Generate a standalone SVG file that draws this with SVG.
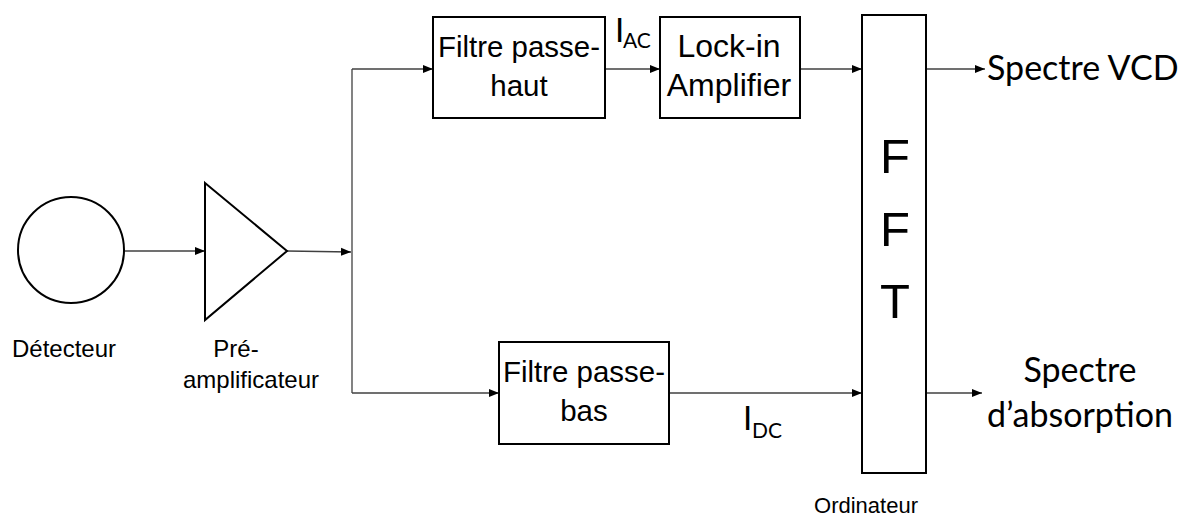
<svg xmlns="http://www.w3.org/2000/svg" width="1181" height="520" viewBox="0 0 1181 520">
<style>
.box{fill:#fff;stroke:#000;stroke-width:2}
.ln{fill:none;stroke:#404040;stroke-width:1.3}
.t{font-family:"Liberation Sans",Arial,sans-serif;font-size:24px;fill:#000}
.bt{font-family:"Liberation Sans",Arial,sans-serif;font-size:29.5px;fill:#000;text-anchor:middle}
.lk{font-family:"Liberation Sans",Arial,sans-serif;font-size:32px;fill:#000;text-anchor:middle}
.fl{font-family:"Liberation Sans",Arial,sans-serif;font-size:49px;fill:#000;text-anchor:middle}
.c{font-family:Lato,"Open Sans",sans-serif;fill:#000}
</style>
<defs>
<marker id="ah" viewBox="0 0 10 10" refX="10" refY="5" markerWidth="10" markerHeight="10" markerUnits="userSpaceOnUse" orient="auto">
<path d="M0,1 L10,5 L0,9 z" fill="#000"/>
</marker>
</defs>
<g id="connectors">
<line class="ln" x1="124" y1="251" x2="205" y2="251" marker-end="url(#ah)"/>
<line class="ln" x1="287" y1="251" x2="351" y2="252" marker-end="url(#ah)"/>
<polyline class="ln" points="352,69 352,393"/>
<line class="ln" x1="352" y1="69" x2="433" y2="69" marker-end="url(#ah)"/>
<line class="ln" x1="605" y1="69" x2="660" y2="69" marker-end="url(#ah)"/>
<line class="ln" x1="800" y1="69" x2="862" y2="69" marker-end="url(#ah)"/>
<line class="ln" x1="352" y1="393" x2="499" y2="393" marker-end="url(#ah)"/>
<line class="ln" x1="669" y1="393" x2="862" y2="393" marker-end="url(#ah)"/>
<line class="ln" x1="926" y1="69" x2="985" y2="69" marker-end="url(#ah)"/>
<line class="ln" x1="926" y1="393" x2="982" y2="393" marker-end="url(#ah)"/>
<text class="c" x="615" y="42" font-size="33">I</text>
<text class="c" x="623" y="48" font-size="21">AC</text>
<text class="c" x="743" y="430" font-size="33">I</text>
<text class="c" x="752" y="438" font-size="21">DC</text>
</g>
<g id="detecteur">
<circle cx="71" cy="250" r="53" fill="#fff" stroke="#000" stroke-width="2"/>
<text class="t" x="12" y="357">Détecteur</text>
</g>
<g id="preamp">
<polygon points="205,183 287,251 205,320" fill="#fff" stroke="#000" stroke-width="2"/>
<text class="t" x="236" y="357" text-anchor="middle">Pré-</text>
<text class="t" x="251" y="388" text-anchor="middle">amplificateur</text>
</g>
<g id="passe-haut">
<rect class="box" x="433" y="17" width="172" height="101"/>
<text class="bt" x="519" y="57" textLength="162" lengthAdjust="spacingAndGlyphs">Filtre passe-</text>
<text class="bt" x="519" y="96">haut</text>
</g>
<g id="lockin">
<rect class="box" x="660" y="17" width="140" height="101"/>
<text class="lk" x="729" y="57">Lock-in</text>
<text class="lk" x="729" y="96">Amplifier</text>
</g>
<g id="passe-bas">
<rect class="box" x="499" y="342" width="170" height="102"/>
<text class="bt" x="584" y="382" textLength="162" lengthAdjust="spacingAndGlyphs">Filtre passe-</text>
<text class="bt" x="584" y="421">bas</text>
</g>
<g id="fft">
<rect class="box" x="862" y="15" width="64" height="458"/>
<text class="fl" x="895" y="173">F</text>
<text class="fl" x="895" y="246">F</text>
<text class="fl" x="895" y="318">T</text>
<text class="t" x="866" y="513" text-anchor="middle" style="font-size:22px">Ordinateur</text>
</g>
<g id="outputs">
<text class="c" x="987" y="80" font-size="34">Spectre VCD</text>
<text class="c" x="1080" y="382" font-size="34" text-anchor="middle">Spectre</text>
<text class="c" x="1080" y="427" font-size="34" text-anchor="middle">d’absorption</text>
</g>
</svg>
